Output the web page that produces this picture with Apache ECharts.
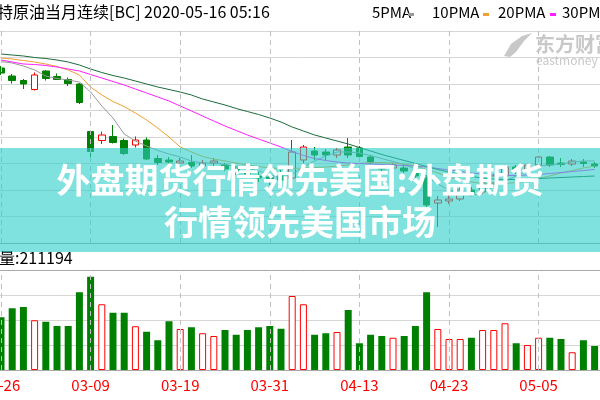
<!DOCTYPE html>
<html>
<head>
<meta charset="utf-8">
<script src="https://cdn.jsdelivr.net/npm/echarts@6/dist/echarts.min.js"></script>
<style>
html,body{margin:0;padding:0;background:#fff;}
#kline{width:600px;height:400px;}
</style>
</head>
<body>
<div id="kline"></div>
<script>
// 日期(交易日)
var dates = ['02-26','02-27','02-28','03-02','03-03','03-04','03-05','03-06','03-09','03-10',
    '03-11','03-12','03-13','03-16','03-17','03-18','03-19','03-20','03-23','03-24',
    '03-25','03-26','03-27','03-30','03-31','04-01','04-02','04-03','04-06','04-07',
    '04-08','04-09','04-13','04-14','04-15','04-16','04-17','04-20','04-21','04-22',
    '04-23','04-24','04-27','04-28','04-29','04-30','05-01','05-04','05-05','05-06',
    '05-07','05-08','05-11','05-12'];
// 虚线对应的日期
var tickDates = ['02-26','03-09','03-19','03-31','04-13','04-23','05-05'];

// K线 [开, 收, 低, 高]
var kdata = [
    [35.0,34.0,33.6,35.4],[33.4,32.5,31.9,33.8],[32.5,31.8,30.8,32.8],[30.7,33.6,30.5,34.1],
    [34.4,32.9,32.5,34.6],[33.3,32.7,32.6,33.9],[32.7,31.9,31.4,33.1],[31.8,28.1,27.8,32.0],
    [22.3,18.3,16.6,22.6],[20.5,21.6,19.8,22.3],[21.3,20.1,19.9,23.6],[20.5,17.9,17.6,20.9],
    [19.6,20.6,19.1,21.3],[20.6,16.8,16.6,21.1],[16.9,16.1,15.6,17.6],[16.6,16.2,15.6,17.2],
    [16.0,16.4,15.4,17.0],[16.1,15.4,15.0,17.6],[15.4,16.0,15.0,16.6],[16.0,16.4,15.4,17.0],
    [15.6,14.8,14.4,16.0],[15.0,14.2,13.6,15.4],[14.4,13.8,13.0,15.0],[13.4,13.0,12.2,14.2],
    [13.2,12.6,11.6,13.8],[13.4,12.6,11.4,14.6],[13.0,18.2,12.2,20.6],[16.6,19.2,16.0,19.6],
    [18.4,17.6,16.6,19.2],[18.2,17.6,16.6,18.8],[17.6,18.6,17.0,19.0],[19.2,17.6,17.0,21.0],
    [19.0,17.3,16.3,19.4],[17.2,16.2,15.8,17.6],[15.4,14.8,14.4,15.8],[15.0,15.6,14.6,16.0],
    [15.0,14.4,14.0,15.6],[14.6,13.4,13.0,15.0],[13.0,7.6,7.2,13.6],[8.0,8.6,3.2,9.4],
    [8.4,8.8,7.8,9.6],[8.8,10.6,8.4,11.2],[10.6,10.0,9.4,11.2],[10.2,12.0,9.8,12.4],
    [12.0,13.4,11.6,13.8],[13.4,15.2,13.0,15.6],[15.2,14.4,13.8,15.6],[14.6,15.6,14.2,16.0],
    [15.6,17.2,15.2,17.4],[17.2,15.6,15.2,17.4],[16.0,15.7,15.2,17.0],[15.8,16.4,15.4,16.8],
    [16.2,15.9,15.2,16.8],[15.8,15.4,15.0,16.2]
];

// 成交量
var vols = [211000,247000,252000,199000,193000,176000,176000,311000,373000,263000,
    229000,229000,175000,153000,119000,195000,164000,171000,147000,136000,
    160000,141000,160000,171000,176000,165000,296000,263000,141000,147000,
    152000,240000,107000,141000,136000,129000,136000,176000,311000,164000,
    124000,124000,129000,160000,160000,187000,107000,100000,129000,129000,
    124000,71000,119000,96000];

// 均线(从图上读的)
var ma5 = [36.3,36.0,35.4,34.6,33.4,32.9,32.6,32.2,30.2,27.4,25.0,21.8,20.4,19.4,18.5,17.8,17.2,16.4,16.0,16.0,
    15.7,15.3,15.0,14.4,13.7,13.0,13.8,15.2,16.4,17.4,18.2,18.2,18.0,17.5,16.9,16.3,15.7,14.8,13.4,11.8,
    10.6,9.8,9.4,10.2,11.3,12.4,13.4,14.4,15.4,15.6,15.8,16.2,16.4,16.4];
var ma10 = [37.0,36.8,36.5,36.2,35.8,35.3,34.6,33.6,31.2,29.6,28.3,27.3,26.0,24.6,23.0,21.2,19.2,18.2,17.3,16.8,
    16.4,16.0,15.6,15.3,15.0,14.9,14.9,15.0,15.1,15.2,15.4,15.6,15.9,16.1,16.1,16.0,15.8,15.4,14.7,14.0,
    13.2,12.6,12.2,11.9,11.8,11.9,12.1,12.4,12.9,13.4,14.0,14.5,15.0,15.4];
var ma20 = [36.6,36.2,35.8,35.7,35.5,35.2,34.8,34.4,33.7,33.0,32.3,31.6,30.8,30.0,29.2,28.4,27.4,26.4,25.4,24.4,
    23.4,22.5,21.6,20.8,20.0,19.2,18.3,17.5,16.9,16.5,16.2,16.0,15.9,15.8,15.7,15.6,15.5,15.4,15.2,14.9,
    14.6,14.3,14.0,13.8,13.6,13.5,13.5,13.6,13.7,13.9,14.1,14.3,14.5,14.7];
var ma30 = [37.8,37.6,37.4,37.1,36.9,36.6,36.2,35.6,34.8,34.1,33.5,33.0,32.4,31.8,31.2,30.7,30.2,29.6,28.8,28.2,
    27.6,26.9,26.3,25.7,25.0,24.2,23.2,22.4,21.6,21.0,20.4,19.8,19.1,18.4,17.7,17.1,16.5,15.9,15.3,14.7,
    14.2,13.7,13.3,13.0,12.8,12.7,12.7,12.8,12.9,13.0,13.1,13.2,13.3,13.4];

var upColor = '#ff0000';
var downColor = '#008000';
var font = '"Noto Sans CJK SC", sans-serif';

// 成交量柱子颜色跟K线涨跌走
var volData = [];
for (var i = 0; i < vols.length; i++) {
    var up = kdata[i][1] >= kdata[i][0];
    volData.push({
        value: vols[i],
        itemStyle: up ? {color: '#fff', borderColor: upColor, borderWidth: 1} : {color: downColor}
    });
}

var markDashed = {
    silent: true,
    symbol: ['none', 'none'],
    label: {show: false},
    lineStyle: {color: '#c0c0c0', type: [5, 4], width: 1},
    data: tickDates.map(function (d) { return {xAxis: d}; })
};

var lightLine = '#d6d6d6';

var myChart = echarts.init(document.getElementById('kline'));
myChart.setOption({
    animation: false,
    backgroundColor: '#fff',
    grid: [
        {left: -4.6, width: 604.8, top: 31, height: 212, outerBoundsMode: 'none'},
        {left: -4.6, width: 604.8, top: 270, height: 100, outerBoundsMode: 'none'}
    ],
    xAxis: [
        {
            type: 'category', gridIndex: 0, data: dates, position: 'top',
            axisLine: {lineStyle: {color: '#a8a8a8', width: 1}},
            axisTick: {show: false}, axisLabel: {show: false}, splitLine: {show: false}
        },
        {
            type: 'category', gridIndex: 1, data: dates,
            axisLine: {lineStyle: {color: '#a8a8a8', width: 1}},
            axisTick: {show: false}, splitLine: {show: false},
            axisLabel: {
                color: upColor, fontSize: 15, fontFamily: font, margin: 8,
                interval: function (idx) { return idx % 8 === 0; }
            }
        }
    ],
    yAxis: [
        {
            type: 'value', gridIndex: 0, min: 0, max: 42.4, interval: 5.3,
            axisLine: {show: false}, axisTick: {show: false}, axisLabel: {show: false},
            splitLine: {lineStyle: {color: lightLine, width: 1}}
        },
        {
            type: 'value', gridIndex: 1, min: 0, max: 400000, interval: 100000,
            axisLine: {show: false}, axisTick: {show: false}, axisLabel: {show: false},
            splitLine: {lineStyle: {color: ['#a8a8a8', lightLine, lightLine, lightLine, '#a8a8a8'], width: 1}}
        }
    ],
    series: [
        {
            name: 'K', type: 'candlestick', xAxisIndex: 0, yAxisIndex: 0, data: kdata,
            barWidth: 7,
            itemStyle: {color: '#fff', color0: downColor, borderColor: upColor, borderColor0: downColor, borderWidth: 1},
            markLine: markDashed
        },
        {name: '5PMA', type: 'line', data: ma5, symbol: 'none', lineStyle: {color: '#999999', width: 1}, z: 3},
        {name: '10PMA', type: 'line', data: ma10, symbol: 'none', lineStyle: {color: '#f0a030', width: 1}, z: 3},
        {name: '20PMA', type: 'line', data: ma20, symbol: 'none', lineStyle: {color: '#ff20ff', width: 1}, z: 3},
        {name: '30PMA', type: 'line', data: ma30, symbol: 'none', lineStyle: {color: '#1d6b3c', width: 1}, z: 3},
        {
            name: '量', type: 'bar', xAxisIndex: 1, yAxisIndex: 1, data: volData,
            barWidth: 7, markLine: markDashed
        }
    ],
    graphic: [
        // 标题
        {type: 'text', left: -3, top: 4, z: 10,
            style: {text: '特原油当月连续[BC] 2020-05-16 05:16', fill: '#000', fontSize: 16, fontFamily: font}},
        // 均线图例
        {type: 'text', left: 372, top: 5, z: 10, style: {text: '5PMA', fill: '#000', fontSize: 15, fontFamily: font}},
        {type: 'rect', shape: {x: 408, y: 13, width: 6, height: 3}, style: {fill: '#999999'}, z: 10},
        {type: 'text', left: 432, top: 5, z: 10, style: {text: '10PMA', fill: '#000', fontSize: 15, fontFamily: font}},
        {type: 'rect', shape: {x: 483, y: 13, width: 6, height: 3}, style: {fill: '#f0a030'}, z: 10},
        {type: 'text', left: 498, top: 5, z: 10, style: {text: '20PMA', fill: '#000', fontSize: 15, fontFamily: font}},
        {type: 'rect', shape: {x: 550, y: 13, width: 6, height: 3}, style: {fill: '#ff20ff'}, z: 10},
        {type: 'text', left: 562, top: 5, z: 10, style: {text: '30PMA', fill: '#000', fontSize: 15, fontFamily: font}},
        // 水印
        {type: 'polygon', shape: {points: [[504, 56], [511, 44], [522, 36], [532, 33], [524, 41], [516, 52], [510, 57]]},
            style: {fill: '#c8c8c8'}, z: 1},
        {type: 'text', left: 535, top: 34, z: 1,
            style: {text: '东方财富', fill: '#c8c8c8', fontSize: 20, fontWeight: 'bold', fontFamily: font}},
        {type: 'text', left: 536, top: 54, z: 1,
            style: {text: 'eastmoney', fill: '#c8c8c8', fontSize: 12, fontFamily: font}},
        // 成交量标签
        {type: 'text', left: -33, top: 250, z: 10,
            style: {text: '成交量:211194', fill: '#000', fontSize: 16, fontFamily: font}},
        // 横幅
        {type: 'rect', shape: {x: 0, y: 148, width: 600, height: 104}, style: {fill: 'rgba(43,207,200,0.6)'}, z: 100},
        {type: 'text', z: 101,
            style: {text: '外盘期货行情领先美国:外盘期货', x: 300, y: 180, textAlign: 'center', textVerticalAlign: 'middle',
                fill: '#fff', fontSize: 34, fontWeight: 'bold', fontFamily: font}},
        {type: 'text', z: 101,
            style: {text: '行情领先美国市场', x: 300, y: 222, textAlign: 'center', textVerticalAlign: 'middle',
                fill: '#fff', fontSize: 34, fontWeight: 'bold', fontFamily: font}}
    ]
});
</script>
</body>
</html>
